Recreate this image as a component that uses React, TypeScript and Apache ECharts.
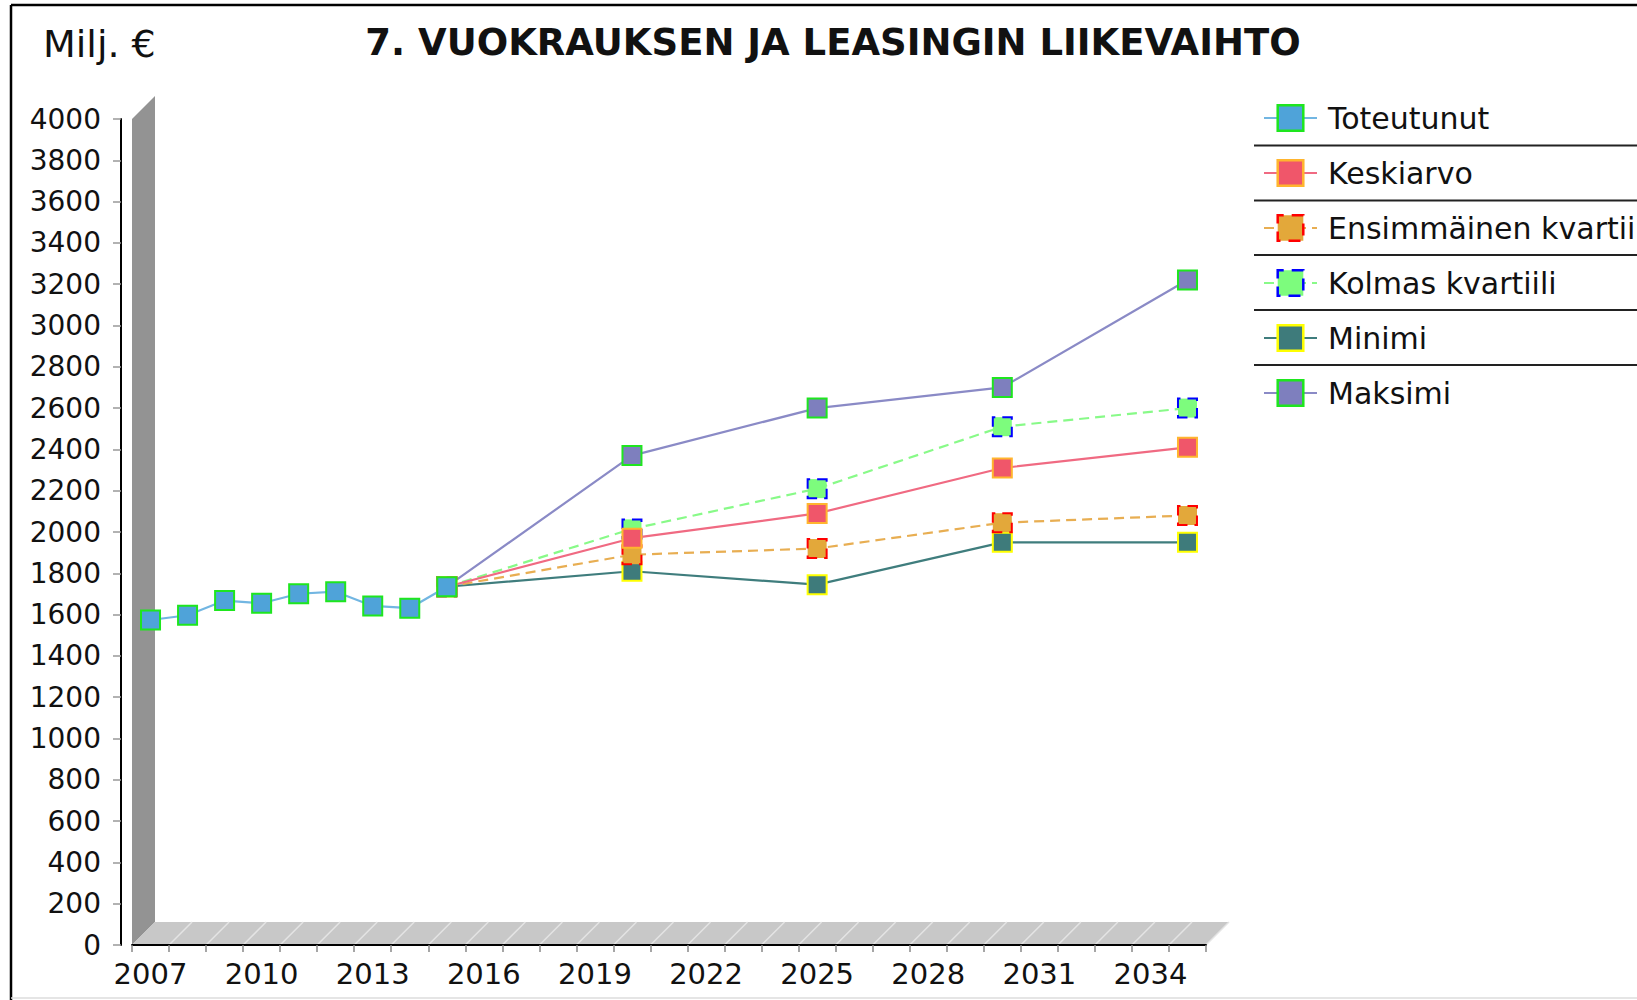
import React, { useEffect, useRef } from "react";
import * as echarts from "echarts";

const years = [
  "2007", "2008", "2009", "2010", "2011", "2012", "2013", "2014", "2015", "2016",
  "2017", "2018", "2019", "2020", "2021", "2022", "2023", "2024", "2025", "2026",
  "2027", "2028", "2029", "2030", "2031", "2032", "2033", "2034", "2035",
];

const actualYears = ["2007", "2008", "2009", "2010", "2011", "2012", "2013", "2014", "2015"];
const toteutunut = [1574, 1597, 1668, 1655, 1701, 1711, 1642, 1631, 1735];

const forecastYears = ["2015", "2020", "2025", "2030", "2035"];
const keskiarvo = [1735, 1970, 2090, 2310, 2410];
const ensimmainenKvartiili = [1735, 1890, 1920, 2045, 2080];
const kolmasKvartiili = [1735, 2015, 2210, 2510, 2600];
const minimi = [1735, 1810, 1745, 1950, 1950];
const maksimi = [1735, 2370, 2600, 2700, 3220];

const yTicks = { min: 0, max: 4000, interval: 200 };

const FONT = "DejaVu Sans";

type SeriesDef = {
  name: string;
  xs: string[];
  values: number[];
  line: string;
  fill: string;
  border: string;
  dashed: boolean;
  z: number;
};

const seriesDefs: SeriesDef[] = [
  { name: "Toteutunut", xs: actualYears, values: toteutunut, line: "#72b6e2", fill: "#4fa3d9", border: "#1ee61e", dashed: false, z: 12 },
  { name: "Keskiarvo", xs: forecastYears, values: keskiarvo, line: "#f06a82", fill: "#f0566a", border: "#ffb52e", dashed: false, z: 11 },
  { name: "Ensimmäinen kvartiili", xs: forecastYears, values: ensimmainenKvartiili, line: "#e8ae52", fill: "#e3a83a", border: "#ff0000", dashed: true, z: 10 },
  { name: "Kolmas kvartiili", xs: forecastYears, values: kolmasKvartiili, line: "#88fa88", fill: "#7dfc7d", border: "#0000ff", dashed: true, z: 9 },
  { name: "Minimi", xs: forecastYears, values: minimi, line: "#3f7d7d", fill: "#3e7b7b", border: "#ffff00", dashed: false, z: 8 },
  { name: "Maksimi", xs: forecastYears, values: maksimi, line: "#8a8ac6", fill: "#7e7fbe", border: "#1ee61e", dashed: false, z: 7 },
];

export default function App() {
  const ref = useRef<HTMLDivElement>(null);

  useEffect(() => {
    if (!ref.current) return;
    const chart = echarts.init(ref.current, undefined, { renderer: "svg" });

    const series = seriesDefs.map((s) => ({
      name: s.name,
      type: "line",
      data: s.xs.map((x, i) => [x, s.values[i]]),
      symbol: "rect",
      symbolSize: 19,
      z: s.z,
      lineStyle: { color: s.line, width: 2.2, type: s.dashed ? [10, 6] : "solid" },
      itemStyle: {
        color: s.fill,
        borderColor: s.border,
        borderWidth: 2,
        borderType: s.dashed ? [12, 7] : "solid",
        borderDashOffset: s.dashed ? 6 : 0,
        opacity: 1,
      },
      emphasis: { disabled: true },
    }));

    chart.setOption({
      animation: false,
      backgroundColor: "#ffffff",
      title: [
        {
          text: "7. VUOKRAUKSEN JA LEASINGIN LIIKEVAIHTO",
          left: 828,
          textAlign: "center",
          top: 19,
          textStyle: { fontFamily: FONT, fontSize: 37, fontWeight: "bold", color: "#111" },
        },
        {
          text: "Milj. €",
          left: 38,
          top: 20,
          textStyle: { fontFamily: FONT, fontSize: 38, fontWeight: "normal", color: "#111" },
        },
      ],
      legend: {
        orient: "vertical",
        left: 1258,
        top: 97,
        itemWidth: 53,
        itemHeight: 32,
        itemGap: 23,
        selectedMode: false,
        textStyle: { fontFamily: FONT, fontSize: 30, color: "#111", lineHeight: 32, padding: [0, 0, 0, 6] },
        data: seriesDefs.map((s) => ({
          name: s.name,
          itemStyle: {
            color: s.fill,
            borderColor: s.border,
            borderWidth: 2.5,
            borderType: s.dashed ? [12, 8] : "solid",
          },
          lineStyle: { color: s.line, width: 2, type: s.dashed ? [10, 6] : "solid" },
        })),
      },
      grid: { left: 132, top: 119, width: 1074, height: 826, containLabel: false },
      xAxis: {
        type: "category",
        data: years,
        boundaryGap: true,
        axisLine: { show: true, lineStyle: { color: "#000", width: 2 } },
        axisTick: { show: true, interval: 0, length: 7, alignWithLabel: false, lineStyle: { color: "#888", width: 1.5 } },
        axisLabel: { interval: 2, fontFamily: FONT, fontSize: 29, color: "#111", margin: 14 },
        splitLine: { show: false },
      },
      yAxis: {
        type: "value",
        min: yTicks.min,
        max: yTicks.max,
        interval: yTicks.interval,
        offset: 11,
        axisLine: { show: true, lineStyle: { color: "#000", width: 2 } },
        axisTick: { show: true, length: 8, lineStyle: { color: "#999", width: 1.5 } },
        axisLabel: {
          fontFamily: FONT,
          fontSize: 28,
          color: "#111",
          margin: 20,
          formatter: (v: number) => String(v),
        },
        splitLine: { show: false },
      },
      series,
    });

    // 3D wall & floor derived from the axes
    const c0 = chart.convertToPixel({ xAxisIndex: 0 }, years[0]) as number;
    const c1 = chart.convertToPixel({ xAxisIndex: 0 }, years[1]) as number;
    const band = c1 - c0;
    const left = c0 - band / 2;
    const right = left + band * years.length;
    const bottom = chart.convertToPixel({ yAxisIndex: 0 }, yTicks.min) as number;
    const top = chart.convertToPixel({ yAxisIndex: 0 }, yTicks.max) as number;
    const d = 23;

    const graphics: any[] = [
      {
        type: "polygon",
        z: -1,
        shape: { points: [[left, bottom], [left, top], [left + d, top - d], [left + d, bottom - d]] },
        style: { fill: "#939393" },
        silent: true,
      },
      {
        type: "polygon",
        z: -1,
        shape: { points: [[left, bottom], [left + d, bottom - d], [right + d, bottom - d], [right, bottom]] },
        style: { fill: "#c8c8c8" },
        silent: true,
      },
    ];
    for (let i = 1; i <= years.length; i++) {
      const x = left + i * band;
      graphics.push({
        type: "line",
        z: -1,
        shape: { x1: x, y1: bottom, x2: x + d, y2: bottom - d },
        style: { stroke: "#e4e4e4", lineWidth: 1.5 },
        silent: true,
      });
    }
    // frame
    graphics.push(
      { type: "line", z: 5, shape: { x1: 11, y1: 5, x2: 11, y2: 1000 }, style: { stroke: "#000", lineWidth: 2.5 }, silent: true },
      { type: "line", z: 5, shape: { x1: 11, y1: 5, x2: 1637, y2: 5 }, style: { stroke: "#000", lineWidth: 2.5 }, silent: true },
      { type: "line", z: 5, shape: { x1: 11, y1: 998, x2: 1637, y2: 998 }, style: { stroke: "#dddddd", lineWidth: 1.5 }, silent: true }
    );
    // legend separators
    const sepYs = [145.5, 200.5, 255, 310, 365];
    sepYs.forEach((y) =>
      graphics.push({
        type: "line",
        z: 5,
        shape: { x1: 1254, y1: y, x2: 1637, y2: y },
        style: { stroke: "#222", lineWidth: 2.2 },
        silent: true,
      })
    );
    chart.setOption({ graphic: graphics });

    return () => chart.dispose();
  }, []);

  return (
    <div
      ref={ref}
      style={{ position: "fixed", left: 0, top: 0, width: 1637, height: 1000, background: "#fff" }}
    />
  );
}
